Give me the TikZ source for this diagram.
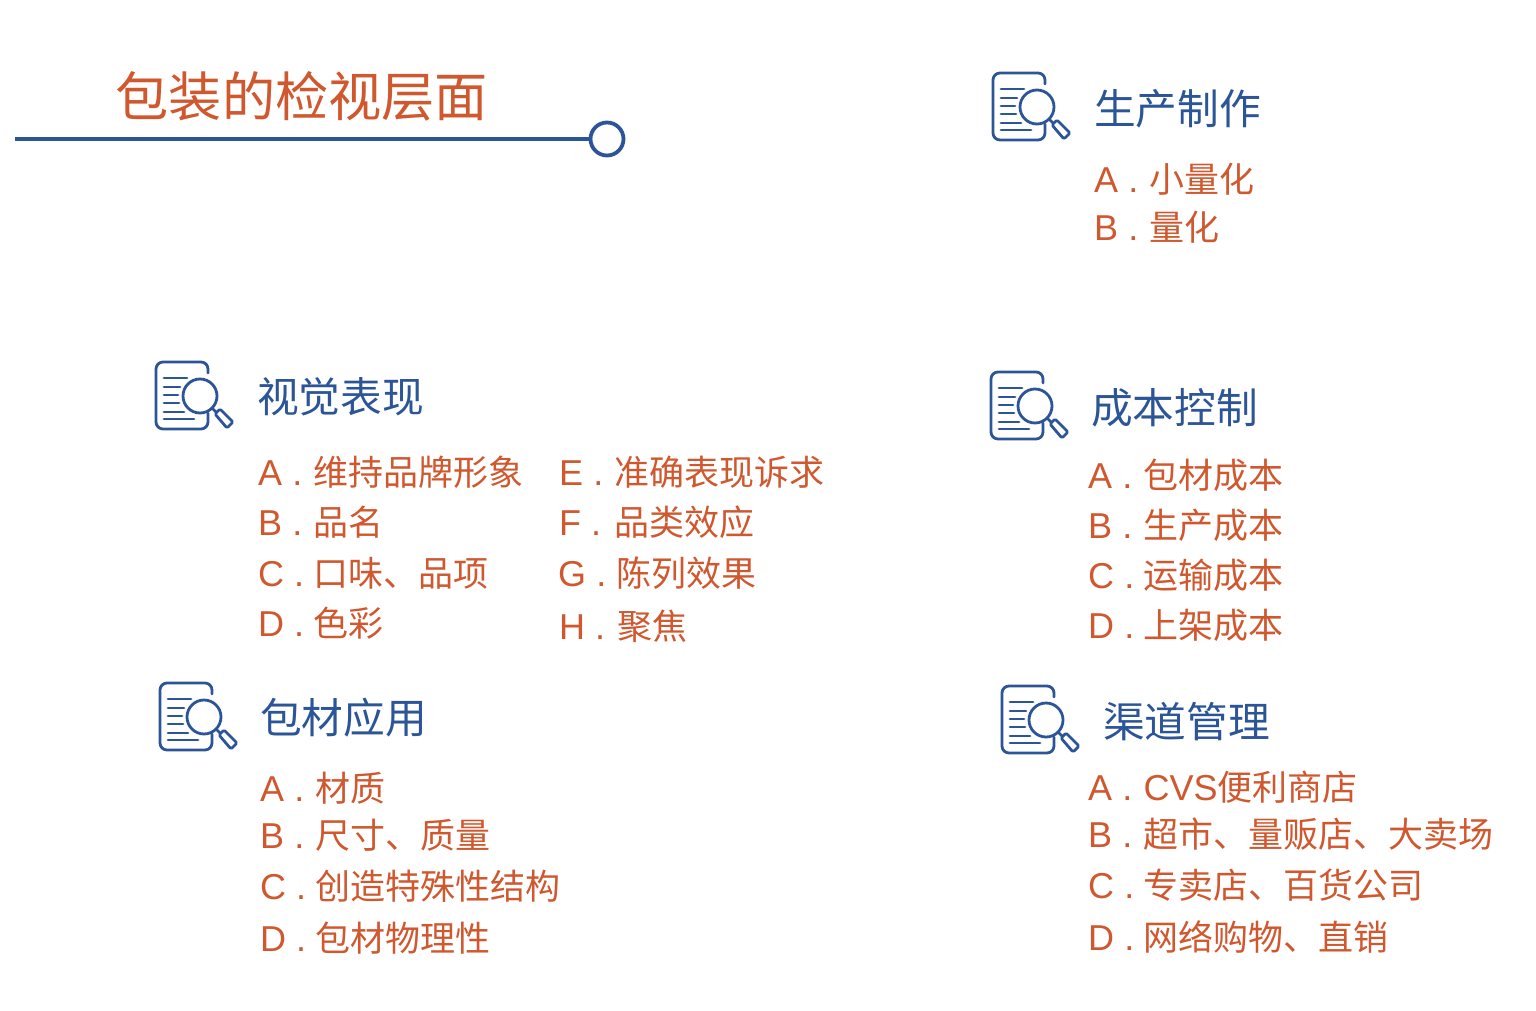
\documentclass[tikz,border=0pt]{standalone}
\usepackage{fontspec}
\setmainfont{Noto Sans CJK SC}
\newfontfamily\latf{Liberation Sans}
\definecolor{orangeT}{HTML}{D0582F}
\definecolor{blueT}{HTML}{2B5597}
\newcommand{\itm}[2]{\makebox[55.5pt][l]{\latf\fontsize{36}{36}\selectfont #1\hskip 0.28em.}#2}
\newcommand{\latin}[1]{{\latf\fontsize{36}{36}\selectfont #1}}
\tikzset{
  x=1pt,y=-1pt,
  titletext/.style={anchor=west,inner sep=0pt,text=orangeT,font=\fontsize{53.2}{53}\selectfont},
  headtext/.style={anchor=west,inner sep=0pt,text=blueT,font=\fontsize{41.7}{42}\selectfont},
  itemtext/.style={anchor=west,inner sep=0pt,text=orangeT,font=\fontsize{35}{35}\selectfont},
  mainline/.style={draw=blueT,line width=3.4pt},
  ringdot/.style={circle,draw=blueT,line width=3.8pt,minimum size=33pt,inner sep=0pt,fill=white},
  iconline/.style={draw=blueT,line width=2.8pt,line cap=round,line join=round},
  lookup/.pic={
    \draw[iconline,rounded corners=7pt] (53,12) -- (53,1) -- (1,1) -- (1,68) -- (53,68) -- (53,52);
    \draw[iconline] (9,17)--(32,17) (9,26)--(25,26) (9,34)--(23,34)
      (9,42)--(24,42) (9,51)--(29,51) (9,58)--(39,58);
    \draw[iconline] (45,35) circle[radius=17];
    \draw[iconline] (57,47) -- (61,51);
    \draw[iconline,rounded corners=1.5pt] (60,53) -- (65,48) -- (78,61) -- (72,67) -- cycle;
  }
}
\begin{document}
\begin{tikzpicture}
\useasboundingbox (0,0) rectangle (1536,1011);
\node[titletext] (title) at (115.5,96) {包装的检视层面};
\coordinate (linestart) at (15,139);
\node[ringdot] (ring) at (607,139) {};
\draw[mainline] (linestart) -- (ring);

\pic at (155,361) {lookup};
\pic at (159,682) {lookup};
\pic at (992,72) {lookup};
\pic at (990,371) {lookup};
\pic at (1001,685) {lookup};

\node[headtext] (h1) at (1094,109) {生产制作};
\node[itemtext] (a1) at (1094,179) {\itm{A}{小量化}};
\node[itemtext] (a2) at (1094,227) {\itm{B}{量化}};

\node[headtext] (h2) at (257,397) {视觉表现};
\node[itemtext] (b1) at (258,472) {\itm{A}{维持品牌形象}};
\node[itemtext] (b2) at (258,522) {\itm{B}{品名}};
\node[itemtext] (b3) at (258,573) {\itm{C}{口味、品项}};
\node[itemtext] (b4) at (258,623) {\itm{D}{色彩}};
\node[itemtext] (b5) at (559,472) {\itm{E}{准确表现诉求}};
\node[itemtext] (b6) at (559,522) {\itm{F}{品类效应}};
\node[itemtext] (b7) at (558,573) {\makebox[58.5pt][l]{\latin{G\hskip 0.28em.}}陈列效果};
\node[itemtext] (b8) at (559,626) {\makebox[58pt][l]{\latin{H\hskip 0.28em.}}聚焦};

\node[headtext] (h3) at (1091,408) {成本控制};
\node[itemtext] (c1) at (1088,475) {\itm{A}{包材成本}};
\node[itemtext] (c2) at (1088,525) {\itm{B}{生产成本}};
\node[itemtext] (c3) at (1088,575) {\itm{C}{运输成本}};
\node[itemtext] (c4) at (1088,625) {\itm{D}{上架成本}};

\node[headtext] (h4) at (260,718) {包材应用};
\node[itemtext] (d1) at (260,788) {\itm{A}{材质}};
\node[itemtext] (d2) at (260,835) {\itm{B}{尺寸、质量}};
\node[itemtext] (d3) at (260,886) {\itm{C}{创造特殊性结构}};
\node[itemtext] (d4) at (260,938) {\itm{D}{包材物理性}};

\node[headtext] (h5) at (1103,722) {渠道管理};
\node[itemtext] (e1) at (1088,787) {\itm{A}{\latin{CVS}便利商店}};
\node[itemtext] (e2) at (1088,834) {\itm{B}{超市、量贩店、大卖场}};
\node[itemtext] (e3) at (1088,885) {\itm{C}{专卖店、百货公司}};
\node[itemtext] (e4) at (1088,937) {\itm{D}{网络购物、直销}};
\end{tikzpicture}
\end{document}
